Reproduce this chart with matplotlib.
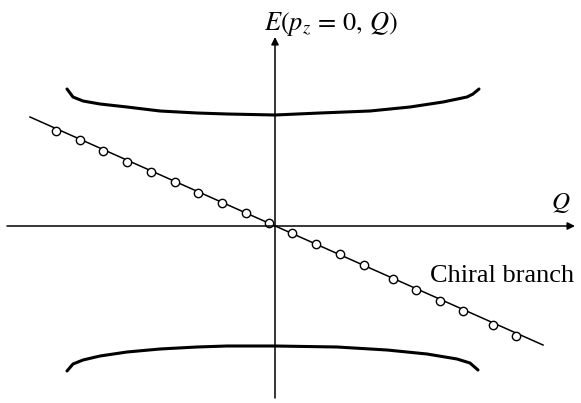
# Dispersion sketch: two gapped bands plus the chiral branch crossing zero

import matplotlib.pyplot as plt

# upper and lower bands (Q, E)
upper_q = [-20.8, -20.2, -19.2, -17.5, -14.8, -11.5, -7.8, -4.8, 0.0,
           4.5, 9.5, 13.5, 16.8, 19.2, 19.8, 20.4]
upper_e = [13.7, 12.9, 12.5, 12.2, 11.9, 11.5, 11.3, 11.2, 11.1,
           11.3, 11.5, 11.9, 12.4, 12.9, 13.2, 13.7]
lower_q = [-20.8, -20.2, -19.2, -17.5, -14.8, -11.5, -7.8, -4.8, 0.0,
           6.2, 11.2, 15.2, 18.2, 19.5, 20.3]
lower_e = [-14.5, -13.8, -13.4, -13.0, -12.6, -12.3, -12.1, -12.0, -12.0,
           -12.1, -12.4, -12.8, -13.3, -13.7, -14.4]

# chiral branch: straight line and the open circles on it
chiral_q = [-24.5, 26.8]
chiral_e = [10.9, -11.9]
points_q = [-21.9, -19.5, -17.2, -14.8, -12.4, -10.0, -7.7, -5.3, -2.9, -0.6,
            1.7, 4.1, 6.5, 8.9, 11.8, 14.1, 16.5, 18.8, 21.8, 24.1]
points_e = [9.5, 8.6, 7.5, 6.4, 5.4, 4.4, 3.3, 2.3, 1.3, 0.3,
            -0.7, -1.8, -2.8, -3.9, -5.3, -6.4, -7.5, -8.5, -9.9, -11.0]

plt.rcParams['mathtext.fontset'] = 'stix'

fig = plt.figure(figsize=(5.81, 4.03), dpi=100)
ax = fig.add_axes([0, 0, 1, 1])
ax.set_xlim(-27.5, 30.6)
ax.set_ylim(-17.7, 22.6)
ax.axis('off')

# axes with arrows
arrow = dict(arrowstyle='-|>', lw=1.1, color='black', mutation_scale=11,
             shrinkA=0, shrinkB=0)
ax.annotate('', xy=(30.0, 0), xytext=(-26.8, 0), arrowprops=arrow)
ax.annotate('', xy=(0, 18.9), xytext=(0, -17.2), arrowprops=arrow)

# bands
ax.plot(upper_q, upper_e, color='black', lw=2.2, solid_capstyle='round',
        solid_joinstyle='round')
ax.plot(lower_q, lower_e, color='black', lw=2.2, solid_capstyle='round',
        solid_joinstyle='round')

# chiral branch
ax.plot(chiral_q, chiral_e, color='black', lw=1.1)
ax.plot(points_q, points_e, 'o', ms=6, mfc='white', mec='black', mew=1.0)

ax.text(5.6, 20.2, r'$E(p_z\, =\, 0,\, Q)$', fontsize=19, ha='center', va='center')
ax.text(28.6, 2.3, r'$Q$', fontsize=18, ha='center', va='center')
ax.text(15.5, -5.0, 'Chiral branch', fontsize=19, family='Liberation Serif',
        ha='left', va='center')

plt.savefig('out.png', dpi=100)
